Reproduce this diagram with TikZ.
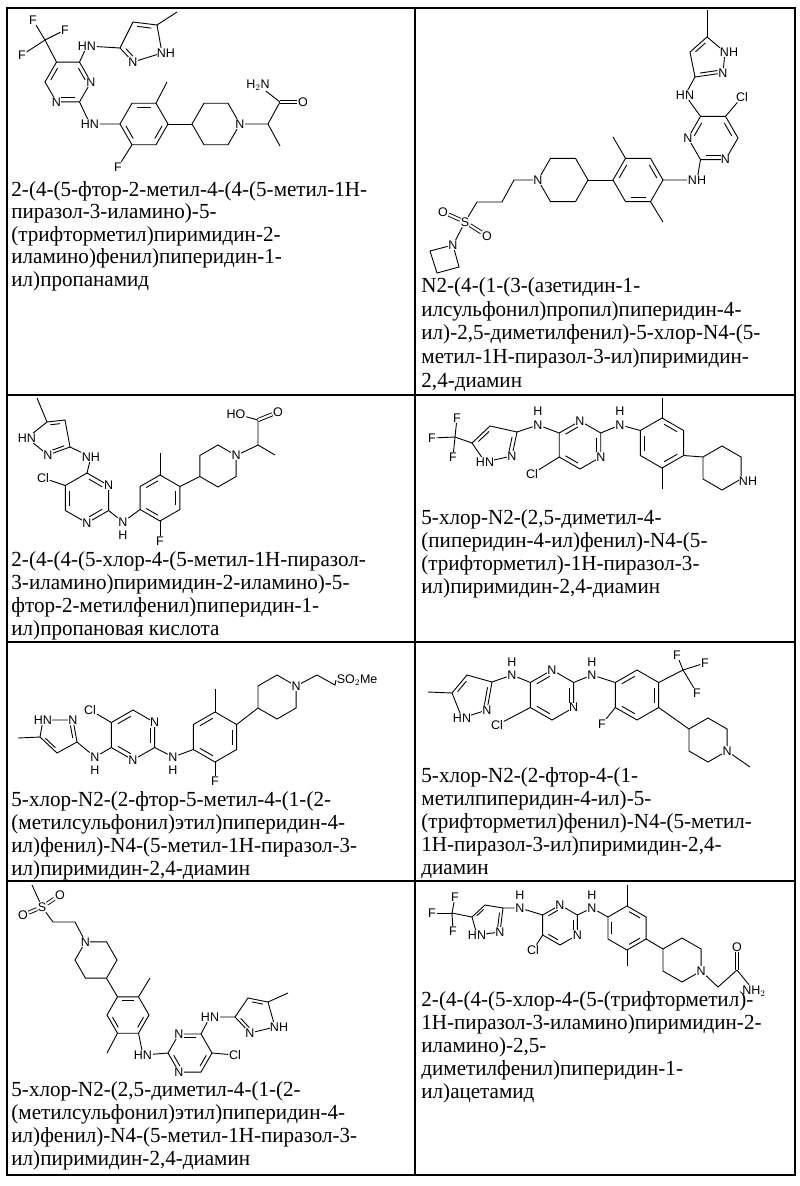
\documentclass[tikz,border=0pt]{standalone}
\usepackage{fontspec}
\setmainfont[FakeStretch=0.98]{Liberation Serif}
\newfontfamily\atomfont{Liberation Sans}
\usetikzlibrary{calc}

% hexagon: name, cx, cy, radius, start angle
\newcommand{\hexa}[5]{%
  \coordinate (#1c) at (#2,#3);
  \foreach \k in {1,...,6}{\coordinate (#1\k) at ($(#1c)+({#5+60*(\k-1)}:#4)$);}
  \draw (#11)--(#12)--(#13)--(#14)--(#15)--(#16)--cycle;}
% inner line of a double bond in a ring
\newcommand{\inb}[3]{\draw[shorten <=2.5pt,shorten >=2.5pt] ($(#1)!0.2!(#3)$) -- ($(#2)!0.2!(#3)$);}

\tikzset{
  atom/.style={font=\atomfont\fontsize{12.5}{12.5}\selectfont, fill=white, inner sep=0.4pt},
  dbond/.style={double, double distance=2.2pt},
  name text/.style={font=\fontsize{21.5}{23}\selectfont, align=left, anchor=north west, inner sep=0pt},
  grid line/.style={line width=1.2pt}
}

\begin{document}
\begin{tikzpicture}[x=1pt, y=-1pt, line width=0.9pt]
\useasboundingbox (0,0) rectangle (800,1186);

% table
\draw[grid line] (7,8) rectangle (795,1175);
\draw[grid line] (415,8) -- (415,1175);
\foreach \yy in {395,642,881} \draw[grid line] (7,\yy) -- (795,\yy);

% ---------- cell 1 ----------
\hexa{ap}{68}{82}{23}{0}
\inb{ap6}{ap1}{apc} \inb{ap2}{ap3}{apc} \inb{ap4}{ap5}{apc}
\coordinate (acf) at (45,40);
\draw (ap5) -- (acf);
\node[atom] (af1) at (33,20) {F}; \node[atom] (af2) at (65,30) {F}; \node[atom] (af3) at (22,55) {F};
\draw (acf) -- (af1); \draw (acf) -- (af2); \draw (acf) -- (af3);
\coordinate (az3) at (120,48); \coordinate (az4) at (133,22); \coordinate (az5) at (157,25);
\coordinate (az1) at (162,53); \coordinate (az2) at (133,62); \coordinate (azc) at (141,42);
\draw (az3)--(az4)--(az5)--(az1)--(az2)--cycle;
\inb{az4}{az5}{azc} \inb{az2}{az3}{azc}
\draw (az5) -- (177,12);
\node[atom] (ahn1) at (87,46) {HN};
\draw (ap6) -- (ahn1) -- (az3);
\hexa{bp}{144}{124}{24}{0}
\inb{bp5}{bp6}{bpc} \inb{bp1}{bp2}{bpc} \inb{bp3}{bp4}{bpc}
\node[atom] (ahn2) at (90,124) {HN};
\draw (ap2) -- (ahn2) -- (bp4);
\draw (bp6) -- (167,82);
\node[atom] (af4) at (118,167) {F};
\draw (bp3) -- (af4);
\hexa{cp}{216}{124}{24}{0}
\draw (bp1) -- (cp4);
\coordinate (ach) at (268,124); \coordinate (aco) at (280,102);
\node[atom] (ao) at (303,102) {O};
\node[atom] (anh2) at (258,85) {H$_2$N};
\draw (cp1) -- (ach) -- (aco) -- (anh2); \draw (ach) -- (280,146);
\draw[dbond] (aco) -- (ao);
\node[atom] at (ap1) {N}; \node[atom] at (ap3) {N};
\node[atom] at (az2) {N}; \node[atom] at (166,53) {NH};
\node[atom] at (cp1) {N};

% ---------- cell 2 ----------
\coordinate (bz5) at (707,37); \coordinate (bz4) at (690,52); \coordinate (bz3) at (695,77);
\coordinate (bz2) at (723,73); \coordinate (bz1) at (725,52); \coordinate (bzc) at (708,59);
\draw (bz5)--(bz4)--(bz3)--(bz2)--(bz1)--cycle;
\inb{bz4}{bz5}{bzc} \inb{bz3}{bz2}{bzc}
\draw (707,10) -- (bz5);
\hexa{dp}{713}{138}{25}{0}
\inb{dp4}{dp5}{dpc} \inb{dp6}{dp1}{dpc} \inb{dp2}{dp3}{dpc}
\node[atom] (bhn1) at (685,95) {HN};
\draw (bz3) -- (bhn1) -- (dp5);
\node[atom] (bcl) at (742,97) {Cl};
\draw (dp6) -- (bcl);
\hexa{ep}{638}{180}{25}{0}
\inb{ep6}{ep1}{epc} \inb{ep2}{ep3}{epc} \inb{ep4}{ep5}{epc}
\node[atom] (bnh2) at (697,180) {NH};
\draw (dp3) -- (bnh2) -- (ep1);
\draw (ep5) -- (613,137); \draw (ep2) -- (663,222);
\hexa{fp}{563}{180}{25}{0}
\draw (ep4) -- (fp1);
\coordinate (bc1) at (514,180); \coordinate (bc2) at (502,202); \coordinate (bc3) at (477,202);
\node[atom] (bs) at (465,222) {S};
\node[atom] (bo1) at (443,212) {O}; \node[atom] (bo2) at (487,236) {O};
\node[atom] (bn) at (453,245) {N};
\draw (fp4) -- (bc1) -- (bc2) -- (bc3) -- (bs) -- (bn);
\draw[dbond] (bs) -- (bo1); \draw[dbond] (bs) -- (bo2);
\draw (bn) -- (430,251) -- (437,273) -- (459,267) -- (bn);
\node[atom] at (bn) {N};
\node[atom] at (dp2) {N}; \node[atom] at (dp4) {N};
\node[atom] at (bz2) {N}; \node[atom] at (729,52) {NH};
\node[atom] at (fp4) {N};

% ---------- cell 3 ----------
\coordinate (cz5) at (47,422); \coordinate (cz4) at (65,420); \coordinate (cz3) at (70,447);
\coordinate (cz2) at (48,455); \coordinate (cz1) at (27,438); \coordinate (czc) at (52,437);
\draw (cz5)--(cz4)--(cz3)--(cz2)--(cz1)--cycle;
\inb{cz4}{cz5}{czc} \inb{cz3}{cz2}{czc}
\draw (37,398) -- (cz5);
\hexa{gp}{87}{498}{25}{-90}
\inb{gp1}{gp2}{gpc} \inb{gp3}{gp4}{gpc} \inb{gp5}{gp6}{gpc}
\node[atom] (cnh1) at (91,457) {NH};
\draw (cz3) -- (cnh1) -- (gp1);
\node[atom] (ccl) at (43,478) {Cl};
\draw (gp6) -- (ccl);
\hexa{hp}{160}{498}{23}{-90}
\inb{hp6}{hp1}{hpc} \inb{hp2}{hp3}{hpc} \inb{hp4}{hp5}{hpc}
\node[atom] (cn2) at (123,522) {N}; \node[atom] (ch2) at (123,535) {H};
\draw (gp3) -- (cn2) -- (hp5);
\draw (hp1) -- (160,453);
\node[atom] (cf) at (160,541) {F};
\draw (hp4) -- (cf);
\hexa{ip}{218}{466}{21}{-90}
\draw (hp2) -- (ip5);
\coordinate (cch) at (258,445); \coordinate (cco) at (258,420);
\node[atom] (co) at (278,412) {O}; \node[atom] (cho) at (236,414) {HO};
\draw (ip2) -- (cch) -- (275,455); \draw (cch) -- (cco) -- (cho);
\draw[dbond] (cco) -- (co);
\node[atom] at (gp2) {N}; \node[atom] at (gp4) {N};
\node[atom] at (cz2) {N}; \node[atom] at (cz1) {HN};
\node[atom] at (ip2) {N};

% ---------- cell 4 ----------
\coordinate (dcf) at (455,437);
\node[atom] (df1) at (457,418) {F}; \node[atom] (df2) at (432,438) {F}; \node[atom] (df3) at (453,457) {F};
\draw (dcf) -- (df1); \draw (dcf) -- (df2); \draw (dcf) -- (df3);
\coordinate (jz5) at (472,443); \coordinate (jz4) at (490,426); \coordinate (jz3) at (517,432);
\coordinate (jz2) at (512,456); \coordinate (jz1) at (485,462); \coordinate (jzc) at (495,444);
\draw (jz5)--(jz4)--(jz3)--(jz2)--(jz1)--cycle;
\inb{jz4}{jz5}{jzc} \inb{jz3}{jz2}{jzc}
\draw (dcf) -- (jz5);
\hexa{kp}{580}{445}{24}{-90}
\inb{kp6}{kp1}{kpc} \inb{kp2}{kp3}{kpc} \inb{kp4}{kp5}{kpc}
\node[atom] (dn1) at (538,425) {N}; \node[atom] (dh1) at (538,411) {H};
\draw (jz3) -- (dn1) -- (kp6);
\node[atom] (dcl) at (532,474) {Cl};
\draw (kp5) -- (dcl);
\hexa{lp}{662}{443}{25}{-90}
\inb{lp1}{lp2}{lpc} \inb{lp3}{lp4}{lpc} \inb{lp5}{lp6}{lpc}
\node[atom] (dn2) at (620,425) {N}; \node[atom] (dh2) at (620,411) {H};
\draw (kp2) -- (dn2) -- (lp6);
\draw (lp1) -- (662,398); \draw (lp4) -- (662,489);
\hexa{mp}{722}{468}{22}{-90}
\draw (lp3) -- (mp6);
\node[atom] at (kp1) {N}; \node[atom] at (kp3) {N};
\node[atom] at (jz2) {N}; \node[atom] at (jz1) {HN};
\node[atom] at (748,481) {NH};

% ---------- cell 5 ----------
\coordinate (nz5) at (40,737); \coordinate (nz1) at (43,720); \coordinate (nz2) at (73,720);
\coordinate (nz3) at (77,742); \coordinate (nz4) at (57,753); \coordinate (nzc) at (58,735);
\draw (nz5)--(nz1)--(nz2)--(nz3)--(nz4)--cycle;
\inb{nz4}{nz5}{nzc} \inb{nz2}{nz3}{nzc}
\draw (18,738) -- (nz5);
\hexa{op}{133}{735}{25}{-90}
\inb{op6}{op1}{opc} \inb{op2}{op3}{opc} \inb{op4}{op5}{opc}
\node[atom] (en1) at (95,757) {N}; \node[atom] (eh1) at (95,770) {H};
\draw (nz3) -- (en1) -- (op5);
\node[atom] (ecl) at (90,710) {Cl};
\draw (op6) -- (ecl);
\hexa{pp}{215}{737}{25}{-90}
\inb{pp6}{pp1}{ppc} \inb{pp2}{pp3}{ppc} \inb{pp4}{pp5}{ppc}
\node[atom] (en2) at (173,757) {N}; \node[atom] (eh2) at (173,770) {H};
\draw (op3) -- (en2) -- (pp5);
\draw (pp1) -- (215,689);
\node[atom] (ef) at (215,781) {F};
\draw (pp4) -- (ef);
\hexa{qp}{277}{697}{22}{-90}
\draw (pp2) -- (qp5);
\node[atom, anchor=west] (eso) at (336,680) {SO$_2$Me};
\draw (qp2) -- (317,675) -- (335,685) -- (eso.west);
\node[atom] at (op2) {N}; \node[atom] at (op4) {N};
\node[atom] at (nz2) {N}; \node[atom] at (nz1) {HN};
\node[atom] at (qp2) {N};

% ---------- cell 6 ----------
\coordinate (rz5) at (452,693); \coordinate (rz4) at (467,675); \coordinate (rz3) at (492,682);
\coordinate (rz2) at (487,710); \coordinate (rz1) at (462,718); \coordinate (rzc) at (472,696);
\draw (rz5)--(rz4)--(rz3)--(rz2)--(rz1)--cycle;
\inb{rz4}{rz5}{rzc} \inb{rz3}{rz2}{rzc}
\draw (428,692) -- (rz5);
\hexa{sp}{552}{695}{25}{-90}
\inb{sp6}{sp1}{spc} \inb{sp2}{sp3}{spc} \inb{sp4}{sp5}{spc}
\node[atom] (fn1) at (512,675) {N}; \node[atom] (fh1) at (512,662) {H};
\draw (rz3) -- (fn1) -- (sp6);
\node[atom] (fcl) at (497,725) {Cl};
\draw (sp5) -- (fcl);
\hexa{tp}{637}{695}{25}{-90}
\inb{tp6}{tp1}{tpc} \inb{tp2}{tp3}{tpc} \inb{tp4}{tp5}{tpc}
\node[atom] (fn2) at (592,675) {N}; \node[atom] (fh2) at (592,662) {H};
\draw (sp2) -- (fn2) -- (tp6);
\node[atom] (ff) at (602,724) {F};
\draw (tp5) -- (ff);
\coordinate (fcf) at (683,670);
\node[atom] (ff1) at (677,655) {F}; \node[atom] (ff2) at (705,663) {F}; \node[atom] (ff3) at (697,693) {F};
\draw (tp2) -- (fcf); \draw (fcf) -- (ff1); \draw (fcf) -- (ff2); \draw (fcf) -- (ff3);
\hexa{up}{708}{740}{22}{-90}
\draw (tp3) -- (up6);
\draw (up3) -- (750,767);
\node[atom] at (sp1) {N}; \node[atom] at (sp3) {N};
\node[atom] at (rz2) {N}; \node[atom] at (rz1) {HN};
\node[atom] at (up3) {N};

% ---------- cell 7 ----------
\node[atom] (gs) at (42,907) {S};
\node[atom] (go1) at (60,895) {O}; \node[atom] (go2) at (23,915) {O};
\draw (32,885) -- (gs);
\draw[dbond] (gs) -- (go1); \draw[dbond] (gs) -- (go2);
\hexa{vp}{96}{960}{21}{0}
\draw (gs) -- (53,922) -- (75,922) -- (vp5);
\hexa{wp}{128}{1015}{21}{0}
\inb{wp5}{wp6}{wpc} \inb{wp1}{wp2}{wpc} \inb{wp3}{wp4}{wpc}
\draw (vp2) -- (wp5);
\draw (wp6) -- (150,978); \draw (wp3) -- (107,1053);
\hexa{xp}{190}{1053}{22}{0}
\inb{xp5}{xp6}{xpc} \inb{xp1}{xp2}{xpc} \inb{xp3}{xp4}{xpc}
\node[atom] (ghn1) at (143,1055) {HN};
\draw (wp2) -- (ghn1) -- (xp4);
\node[atom] (gcl) at (235,1055) {Cl};
\draw (xp1) -- (gcl);
\coordinate (yz3) at (235,1017); \coordinate (yz4) at (248,998); \coordinate (yz5) at (268,1002);
\coordinate (yz1) at (275,1027); \coordinate (yz2) at (250,1033); \coordinate (yzc) at (255,1015);
\draw (yz3)--(yz4)--(yz5)--(yz1)--(yz2)--cycle;
\inb{yz4}{yz5}{yzc} \inb{yz2}{yz3}{yzc}
\draw (yz5) -- (288,993);
\node[atom] (ghn2) at (210,1017) {HN};
\draw (xp6) -- (ghn2) -- (yz3);
\node[atom] at (vp5) {N};
\node[atom] at (xp5) {N}; \node[atom] at (xp3) {N};
\node[atom] at (yz2) {N}; \node[atom] at (279,1027) {NH};

% ---------- cell 8 ----------
\coordinate (hcf) at (452,913);
\node[atom] (hf1) at (455,897) {F}; \node[atom] (hf2) at (432,913) {F}; \node[atom] (hf3) at (453,931) {F};
\draw (hcf) -- (hf1); \draw (hcf) -- (hf2); \draw (hcf) -- (hf3);
\coordinate (zz5) at (472,917); \coordinate (zz4) at (485,905); \coordinate (zz3) at (503,908);
\coordinate (zz2) at (500,932); \coordinate (zz1) at (477,935); \coordinate (zzc) at (487,919);
\draw (zz5)--(zz4)--(zz3)--(zz2)--(zz1)--cycle;
\inb{zz4}{zz5}{zzc} \inb{zz3}{zz2}{zzc}
\draw (hcf) -- (zz5);
\hexa{Ap}{560}{925}{20}{-90}
\inb{Ap6}{Ap1}{Apc} \inb{Ap2}{Ap3}{Apc} \inb{Ap4}{Ap5}{Apc}
\node[atom] (hn1) at (520,908) {N}; \node[atom] (hh1) at (520,895) {H};
\draw (zz3) -- (hn1) -- (Ap6);
\node[atom] (hcl) at (533,950) {Cl};
\draw (Ap5) -- (hcl);
\hexa{Bp}{627}{928}{22}{-90}
\inb{Bp1}{Bp2}{Bpc} \inb{Bp3}{Bp4}{Bpc} \inb{Bp5}{Bp6}{Bpc}
\node[atom] (hn2) at (592,908) {N}; \node[atom] (hh2) at (592,895) {H};
\draw (Ap2) -- (hn2) -- (Bp6);
\draw (Bp1) -- (627,885); \draw (Bp4) -- (627,966);
\hexa{Cp}{682}{960}{22}{-90}
\draw (Bp3) -- (Cp6);
\coordinate (hch) at (718,987); \coordinate (hco) at (737,970);
\node[atom] (ho) at (737,947) {O};
\node[atom] (hnh2) at (754,991) {NH$_2$};
\draw (Cp3) -- (hch) -- (hco) -- (hnh2);
\draw[dbond] (hco) -- (ho);
\node[atom] at (Ap1) {N}; \node[atom] at (Ap3) {N};
\node[atom] at (zz2) {N}; \node[atom] at (zz1) {HN};
\node[atom] at (Cp3) {N};

% ---------- names ----------
\node[name text, font=\fontsize{21.5}{22.5}\selectfont] (t1) at (11,181) {2-(4-(5-фтор-2-метил-4-(4-(5-метил-1H-\\пиразол-3-иламино)-5-\\(трифторметил)пиримидин-2-\\иламино)фенил)пиперидин-1-\\ил)пропанамид};
\node[name text, font=\fontsize{21.5}{23.7}\selectfont] (t2) at (421,277) {N2-(4-(1-(3-(азетидин-1-\\илсульфонил)пропил)пиперидин-4-\\ил)-2,5-диметилфенил)-5-хлор-N4-(5-\\метил-1H-пиразол-3-ил)пиримидин-\\2,4-диамин};
\node[name text] (t3) at (11,551) {2-(4-(4-(5-хлор-4-(5-метил-1H-пиразол-\\3-иламино)пиримидин-2-иламино)-5-\\фтор-2-метилфенил)пиперидин-1-\\ил)пропановая кислота};
\node[name text] (t4) at (421,509) {5-хлор-N2-(2,5-диметил-4-\\(пиперидин-4-ил)фенил)-N4-(5-\\(трифторметил)-1H-пиразол-3-\\ил)пиримидин-2,4-диамин};
\node[name text] (t5) at (11,791) {5-хлор-N2-(2-фтор-5-метил-4-(1-(2-\\(метилсульфонил)этил)пиперидин-4-\\ил)фенил)-N4-(5-метил-1H-пиразол-3-\\ил)пиримидин-2,4-диамин};
\node[name text] (t6) at (421,767) {5-хлор-N2-(2-фтор-4-(1-\\метилпиперидин-4-ил)-5-\\(трифторметил)фенил)-N4-(5-метил-\\1H-пиразол-3-ил)пиримидин-2,4-\\диамин};
\node[name text] (t7) at (11,1081) {5-хлор-N2-(2,5-диметил-4-(1-(2-\\(метилсульфонил)этил)пиперидин-4-\\ил)фенил)-N4-(5-метил-1H-пиразол-3-\\ил)пиримидин-2,4-диамин};
\node[name text] (t8) at (421,991) {2-(4-(4-(5-хлор-4-(5-(трифторметил)-\\1H-пиразол-3-иламино)пиримидин-2-\\иламино)-2,5-\\диметилфенил)пиперидин-1-\\ил)ацетамид};
\end{tikzpicture}
\end{document}
